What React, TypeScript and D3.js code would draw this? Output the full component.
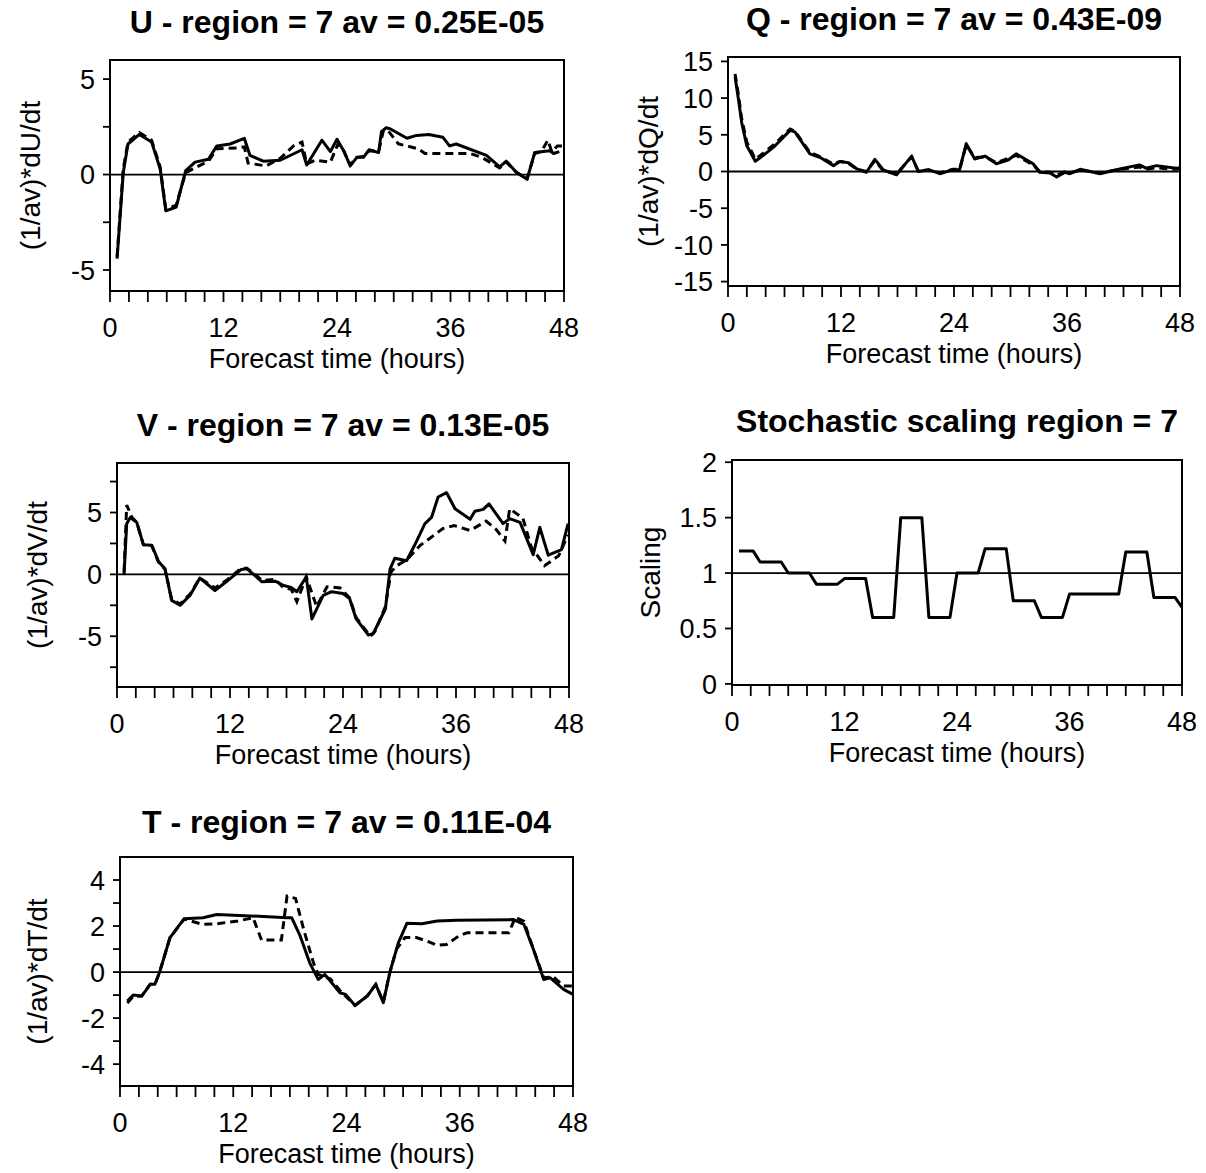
import React from "react";
import * as d3 from "d3";

type Pt = [number, number];

// x axis (forecast hours)
const hourTicks = [0, 2, 4, 6, 8, 10, 12, 14, 16, 18, 20, 22, 24, 26, 28, 30, 32, 34, 36, 38, 40, 42, 44, 46, 48];
const hourLabels = [0, 12, 24, 36, 48];

// U panel
const uTicks = [-5, -2.5, 0, 2.5, 5];
const uLabels = [-5, 0, 5];
const uSolid: Pt[] = [
  [0.75, -4.4], [1.4, 0.1], [1.9, 1.6], [3.1, 2.1], [4.4, 1.7], [5.3, 0.3], [5.9, -1.9], [7, -1.7],
  [8, 0.2], [9, 0.65], [10.4, 0.8], [11.3, 1.5], [12.7, 1.6], [14.2, 1.9], [14.8, 1.0], [16.2, 0.7],
  [18, 0.75], [20.3, 1.3], [20.8, 0.5], [22.4, 1.8], [23.3, 1.2], [24, 1.85], [24.7, 1.25], [25.4, 0.45],
  [26.1, 0.9], [26.8, 0.9], [27.4, 1.3], [28.4, 1.15], [28.7, 2.25], [29.2, 2.45], [29.6, 2.4], [31.4, 1.9],
  [32.4, 2.05], [33.7, 2.1], [35.2, 1.95], [35.9, 1.5], [36.6, 1.6], [39.8, 1.0], [41.2, 0.4], [41.9, 0.7],
  [43, 0.1], [44.1, -0.25], [44.9, 1.15], [46.5, 1.25], [46.9, 1.1], [47.5, 1.2],
];
const uDashed: Pt[] = [
  [0.75, -4.3], [1.4, 0.3], [1.9, 1.7], [3.1, 2.2], [4.4, 1.8], [5.3, 0.4], [5.9, -1.8], [7, -1.6],
  [8, 0.1], [8.8, 0.3], [10.4, 0.7], [11.3, 1.35], [13.6, 1.4], [14.2, 1.45], [14.6, 0.6], [16.5, 0.45],
  [18, 0.85], [19.4, 1.5], [20.3, 1.7], [20.8, 0.55], [21.7, 0.75], [23.3, 0.65], [24.1, 1.6], [24.7, 1.25],
  [25.4, 0.5], [26.1, 0.9], [26.8, 0.95], [27.4, 1.25], [28.4, 1.2], [28.9, 2.3], [29.4, 2.3], [30.5, 1.6],
  [32.6, 1.35], [33.3, 1.1], [38.1, 1.1], [39.3, 0.9], [41.2, 0.35], [41.9, 0.65], [43, 0.1], [44.1, -0.2],
  [44.9, 1.1], [45.6, 1.2], [46.3, 1.8], [46.7, 1.2], [47.3, 1.5], [48, 1.5],
];

// Q panel
const qTicks = [-15, -10, -5, 0, 5, 10, 15];
const qLabels = [-15, -10, -5, 0, 5, 10, 15];
const qSolid: Pt[] = [
  [0.75, 12.9], [1.1, 9.9], [1.45, 6.7], [2, 3.5], [2.9, 1.4], [3.75, 2.2], [5, 3.5], [6.6, 5.6],
  [7.1, 5.4], [8.7, 2.4], [9.8, 1.9], [11.2, 0.8], [11.9, 1.35], [12.8, 1.2], [13.7, 0.35], [14.7, -0.1],
  [15.6, 1.65], [16.5, 0.2], [17.9, -0.45], [19.5, 2.1], [20.2, 0], [21.3, 0.25], [22.5, -0.3], [23.9, 0.25],
  [24.6, 0.25], [25.3, 3.8], [26.2, 1.7], [27.3, 2.1], [28.5, 1.05], [29.8, 1.6], [30.6, 2.4], [32.4, 1.05],
  [33.1, -0.1], [34.2, -0.2], [34.9, -0.75], [35.8, -0.1], [36.3, -0.3], [37.4, 0.3], [39.5, -0.3], [41.6, 0.35],
  [43.7, 0.9], [44.4, 0.45], [45.5, 0.8], [47.6, 0.45], [48, 0.5],
];
const qDashed: Pt[] = [
  [0.75, 13.3], [1.1, 10.5], [1.45, 7.2], [2, 4], [2.9, 1.7], [3.75, 2.5], [5, 3.8], [6.6, 5.8],
  [7.1, 5.5], [8.7, 2.6], [9.8, 2.0], [11.2, 1.0], [11.9, 1.4], [12.8, 1.1], [13.7, 0.3], [14.7, 0],
  [15.6, 1.5], [16.5, 0.1], [17.9, -0.3], [19.5, 2.0], [20.2, 0.1], [21.3, 0.2], [22.5, -0.2], [23.9, 0.3],
  [24.6, 0.3], [25.3, 3.6], [26.2, 1.9], [27.3, 2.0], [28.5, 1.2], [29.8, 1.8], [30.6, 2.2], [32.4, 0.9],
  [33.1, 0], [34.2, -0.1], [34.9, -0.5], [35.8, 0], [36.3, -0.2], [37.4, 0.2], [39.5, -0.2], [41.6, 0.3],
  [43.7, 0.6], [44.4, 0.3], [45.5, 0.5], [47.6, 0.3], [48, 0.4],
];

// V panel
const vTicks = [-7.5, -5, -2.5, 0, 2.5, 5, 7.5];
const vLabels = [-5, 0, 5];
const vSolid: Pt[] = [
  [0.75, 0], [1.03, 4.1], [1.4, 4.6], [2.1, 4.2], [2.8, 2.4], [3.7, 2.35], [4.4, 1.05], [5.1, 0.45],
  [5.8, -2.1], [6.7, -2.5], [7.75, -1.7], [8.8, -0.3], [10.4, -1.3], [11.6, -0.6], [13.2, 0.4], [13.8, 0.45],
  [14.5, 0], [15.4, -0.6], [16.8, -0.55], [17.7, -0.9], [18.5, -1.05], [19.1, -1.4], [20.1, -0.2], [20.7, -3.6],
  [21.9, -1.7], [22.8, -1.4], [24, -1.55], [24.7, -1.95], [25.4, -3.6], [26.7, -4.9], [27.2, -4.8], [28.5, -2.8],
  [29, 0.45], [29.5, 1.3], [30.75, 1.1], [31.6, 2.35], [32.7, 4.1], [33.4, 4.6], [34.1, 6.25], [35, 6.6],
  [35.9, 5.3], [37.5, 4.45], [38, 5.1], [38.9, 5.25], [39.5, 5.7], [41, 4.1], [41.7, 4.5], [42.8, 4.2],
  [44.2, 1.6], [44.9, 3.8], [45.8, 1.55], [47.2, 2.0], [47.9, 4.1],
];
const vDashed: Pt[] = [
  [0.75, 0.2], [1.03, 5.6], [1.6, 4.6], [2.1, 4.2], [2.8, 2.4], [3.7, 2.3], [4.4, 1.0], [5.1, 0.4],
  [5.8, -2.0], [6.7, -2.4], [7.75, -1.6], [8.8, -0.3], [10.4, -1.1], [11.6, -0.5], [13.2, 0.5], [13.8, 0.5],
  [14.5, 0.1], [15.4, -0.5], [16.8, -0.4], [17.7, -1.1], [18.5, -1.2], [19.1, -2.2], [20.1, -0.2], [21.2, -2.6],
  [22.3, -1.0], [23.7, -1.1], [24.7, -1.9], [25.4, -3.5], [26.9, -5.0], [27.4, -4.6], [28.5, -2.6], [29.1, 0.2],
  [29.7, 0.7], [30.8, 1.2], [32.2, 2.35], [33.2, 2.9], [34.6, 3.7], [35.8, 3.95], [37.5, 3.55], [39.2, 4.3],
  [40.3, 3.6], [41.2, 2.7], [41.7, 5.3], [43.1, 4.55], [44, 2.2], [45.4, 0.7], [46.9, 1.5], [47.9, 3.2],
];

// Stochastic scaling panel
const sTicks = [0, 0.5, 1, 1.5, 2];
const sLabels = [0, 0.5, 1, 1.5, 2];
const scaling: Pt[] = [
  [0.75, 1.2], [2.25, 1.2], [3, 1.1], [5.25, 1.1], [6, 1.0], [8.25, 1.0], [9, 0.9], [11.25, 0.9],
  [12, 0.95], [14.25, 0.95], [15, 0.6], [17.25, 0.6], [18, 1.5], [20.25, 1.5], [21, 0.6], [23.25, 0.6],
  [24, 1.0], [26.25, 1.0], [27, 1.22], [29.25, 1.22], [30, 0.75], [32.25, 0.75], [33, 0.6], [35.25, 0.6],
  [36, 0.81], [41.25, 0.81], [42, 1.19], [44.25, 1.19], [45, 0.78], [47.25, 0.78], [48, 0.69],
];

// T panel
const tTicks = [-4, -3, -2, -1, 0, 1, 2, 3, 4];
const tLabels = [-4, -2, 0, 2, 4];
const tSolid: Pt[] = [
  [0.78, -1.26], [1.4, -1.0], [2.3, -1.04], [3.2, -0.53], [3.7, -0.53], [4.2, 0], [5.3, 1.5], [6.8, 2.32],
  [8.8, 2.36], [10.25, 2.5], [13.8, 2.44], [17.7, 2.36], [18.2, 2.36], [19.1, 1.56], [20.1, 0.4], [21, -0.32],
  [21.7, -0.1], [23.3, -0.9], [23.9, -0.97], [24.9, -1.45], [26.2, -1.04], [27.1, -0.53], [27.9, -1.33], [28.6, 0],
  [29.5, 1.28], [30.4, 2.12], [32, 2.1], [33.6, 2.22], [35.7, 2.25], [41.7, 2.28], [42.8, 2.07], [43.8, 0.99],
  [44.9, -0.32], [45.6, -0.25], [47, -0.75], [48, -0.97],
];
const tDashed: Pt[] = [
  [0.78, -1.35], [1.4, -1.05], [2.3, -1.04], [3.2, -0.53], [3.7, -0.53], [4.2, 0], [5.3, 1.5], [6.8, 2.3],
  [8.8, 2.07], [10.25, 2.1], [12.5, 2.22], [14.1, 2.36], [15, 1.39], [17.1, 1.39], [17.7, 3.3], [18.6, 3.2],
  [19.5, 1.8], [20.5, 0.4], [21, -0.1], [22.3, -0.3], [23.3, -0.8], [24.9, -1.45], [26.2, -1.04], [27.1, -0.53],
  [27.9, -1.3], [28.6, 0], [29.3, 1.0], [30.2, 1.5], [31.4, 1.5], [32.5, 1.35], [33.6, 1.16], [34.6, 1.2],
  [35.9, 1.57], [36.8, 1.71], [41.2, 1.71], [41.9, 2.38], [42.8, 2.2], [43.8, 1.0], [44.9, -0.25], [45.9, -0.2],
  [47, -0.6], [48, -0.6],
];

const FONT = "'Liberation Sans', Arial, Helvetica, sans-serif";

interface PanelProps {
  title: string;
  x0: number;
  x1: number;
  y0: number;
  y1: number;
  titleY: number;
  yDomain: [number, number];
  yTicks: number[];
  yLabels: number[];
  yTitle: string;
  yTitleX: number;
  refValue: number;
  solid: Pt[];
  dashed?: Pt[];
}

const Panel = ({ title, x0, x1, y0, y1, titleY, yDomain, yTicks, yLabels, yTitle, yTitleX, refValue, solid, dashed }: PanelProps) => {
  const x = d3.scaleLinear().domain([0, 48]).range([x0, x1]);
  const y = d3.scaleLinear().domain(yDomain).range([y0, y1]);
  const line = d3
    .line<Pt>()
    .x((d) => x(d[0]))
    .y((d) => y(d[1]));
  const cx = (x0 + x1) / 2;
  const cy = (y0 + y1) / 2;

  return (
    <g fontFamily={FONT} fill="#000">
      <text x={cx} y={titleY} textAnchor="middle" fontSize={32} fontWeight="bold">
        {title}
      </text>

      {/* reference line */}
      <line x1={x0} x2={x1} y1={y(refValue)} y2={y(refValue)} stroke="#000" strokeWidth={1.8} />

      {/* series */}
      {dashed && (
        <path d={line(dashed) || ""} fill="none" stroke="#000" strokeWidth={3} strokeDasharray="8,5" />
      )}
      <path d={line(solid) || ""} fill="none" stroke="#000" strokeWidth={3} strokeLinejoin="round" />

      {/* frame */}
      <rect x={x0} y={y1} width={x1 - x0} height={y0 - y1} fill="none" stroke="#000" strokeWidth={2} />

      {/* y ticks */}
      {yTicks.map((t) => (
        <line key={"yt" + t} x1={x0 - 7} x2={x0} y1={y(t)} y2={y(t)} stroke="#000" strokeWidth={1.8} />
      ))}
      {yLabels.map((t) => (
        <text key={"yl" + t} x={x0 - 15} y={y(t)} dy="0.36em" textAnchor="end" fontSize={27}>
          {t}
        </text>
      ))}

      {/* x ticks */}
      {hourTicks.map((t) => (
        <line key={"xt" + t} x1={x(t)} x2={x(t)} y1={y0} y2={y0 + 11} stroke="#000" strokeWidth={1.8} />
      ))}
      {hourLabels.map((t) => (
        <text key={"xl" + t} x={x(t)} y={y0 + 46} textAnchor="middle" fontSize={27}>
          {t}
        </text>
      ))}

      <text x={cx} y={y0 + 77} textAnchor="middle" fontSize={27}>
        Forecast time (hours)
      </text>
      <text transform={`translate(${yTitleX},${cy}) rotate(-90)`} dy="0.36em" textAnchor="middle" fontSize={28}>
        {yTitle}
      </text>
    </g>
  );
};

const App = () => {
  return (
    <svg
      width={1206}
      height={1173}
      style={{ position: "absolute", left: 0, top: 0, background: "#fff" }}
    >
      <rect width={1206} height={1173} fill="#fff" />
      <Panel
        title="U - region = 7 av = 0.25E-05"
        x0={110} x1={564} y0={291} y1={60} titleY={33}
        yDomain={[-6.1, 6]} yTicks={uTicks} yLabels={uLabels}
        yTitle="(1/av)*dU/dt" yTitleX={30} refValue={0}
        solid={uSolid} dashed={uDashed}
      />
      <Panel
        title="Q - region = 7 av = 0.43E-09"
        x0={728} x1={1180} y0={286} y1={57} titleY={30}
        yDomain={[-15.6, 15.6]} yTicks={qTicks} yLabels={qLabels}
        yTitle="(1/av)*dQ/dt" yTitleX={648} refValue={0}
        solid={qSolid} dashed={qDashed}
      />
      <Panel
        title="V - region = 7 av = 0.13E-05"
        x0={117} x1={569} y0={687} y1={463} titleY={436}
        yDomain={[-9.1, 9]} yTicks={vTicks} yLabels={vLabels}
        yTitle="(1/av)*dV/dt" yTitleX={37} refValue={0}
        solid={vSolid} dashed={vDashed}
      />
      <Panel
        title="Stochastic scaling region = 7"
        x0={732} x1={1182} y0={685} y1={460} titleY={432}
        yDomain={[-0.01, 2.02]} yTicks={sTicks} yLabels={sLabels}
        yTitle="Scaling" yTitleX={650} refValue={1}
        solid={scaling}
      />
      <Panel
        title="T - region = 7 av = 0.11E-04"
        x0={120} x1={573} y0={1086} y1={857} titleY={833}
        yDomain={[-4.95, 5]} yTicks={tTicks} yLabels={tLabels}
        yTitle="(1/av)*dT/dt" yTitleX={37} refValue={0}
        solid={tSolid} dashed={tDashed}
      />
    </svg>
  );
};

export default App;
